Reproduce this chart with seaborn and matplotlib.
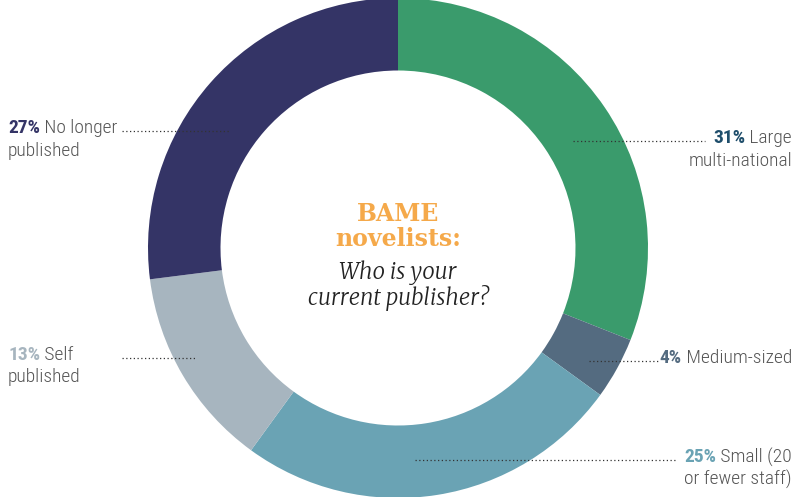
import matplotlib
matplotlib.use("Agg")
import matplotlib.pyplot as plt
import seaborn as sns

# data
categories = ["Large\nmulti-national", "Medium-sized", "Small (20\nor fewer staff)",
              "Self\npublished", "No longer\npublished"]
shares = [31, 4, 25, 13, 27]
colors = ["#3a9b6c", "#546b80", "#6aa3b4", "#a7b5bf", "#343466"]
pct_colors = ["#1f4e6b", "#546b80", "#6aa3b4", "#a7b5bf", "#343466"]

sns.set_theme(style="white")
plt.rcParams["font.family"] = ["Roboto Condensed", "DejaVu Sans"]

fig = plt.figure(figsize=(7.96, 4.97), dpi=100)
ax = fig.add_axes([0, 0, 1, 1])
ax.pie(shares, colors=colors, startangle=90, counterclock=False,
       radius=1.0, wedgeprops=dict(width=0.29, linewidth=0))
ax.set_xlim(-1.592, 1.592)
ax.set_ylim(-0.996, 0.992)
ax.set_aspect("equal")
ax.axis("off")

# label layout: (anchor x, y, side, leader x0, leader x1)
layout = [
    (1.576, 0.440, "right", 0.70, 1.228),
    (1.576, -0.440, "right", 0.764, 1.048),
    (1.576, -0.836, "right", 0.068, 1.108),
    (-1.56, -0.428, "left", -1.104, -0.812),
    (-1.56, 0.480, "left", -1.104, -0.672),
]
fs = 14
grey = "#555555"
for cat, val, pc, (x, y, side, lx0, lx1) in zip(categories, shares, pct_colors, layout):
    lines = cat.split("\n")
    first, rest = lines[0], lines[1:]
    ax.plot([lx0, lx1], [y - 0.012, y - 0.012], linestyle=(0, (1, 2)),
            color="#333333", lw=0.9)
    if side == "left":
        t = ax.text(x, y, f"{val}%", ha="left", va="center", fontsize=fs,
                    fontweight="bold", color=pc)
        ax.annotate(" " + first, xy=(1, 0.5), xycoords=t, ha="left", va="center",
                    fontsize=fs, color=grey, fontweight="light")
    else:
        t = ax.text(x, y, " " + first, ha="right", va="center", fontsize=fs,
                    color=grey, fontweight="light")
        ax.annotate(f"{val}%", xy=(0, 0.5), xycoords=t, ha="right", va="center",
                    fontsize=fs, fontweight="bold", color=pc)
    for second in rest:
        ax.text(x, y - 0.09, second, ha=side, va="center", fontsize=fs,
                color=grey, fontweight="light")

# centre title
ax.text(0, 0.135, "BAME", ha="center", va="center", fontsize=17,
        fontweight="bold", color="#f5a94a", family="DejaVu Serif")
ax.text(0, 0.035, "novelists:", ha="center", va="center", fontsize=17,
        fontweight="bold", color="#f5a94a", family="DejaVu Serif")
ax.text(0, -0.1, "Who is your", ha="center", va="center", fontsize=16,
        style="italic", color="#222222", family=["Merriweather", "DejaVu Serif"])
ax.text(0, -0.2, "current publisher?", ha="center", va="center", fontsize=16,
        style="italic", color="#222222", family=["Merriweather", "DejaVu Serif"])

fig.savefig("out.png", dpi=100, facecolor="white")
